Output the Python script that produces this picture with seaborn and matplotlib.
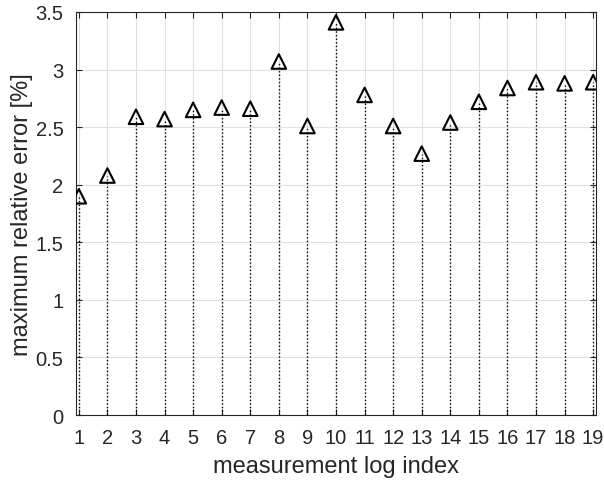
import matplotlib
matplotlib.use("Agg")
import matplotlib.pyplot as plt
import seaborn as sns
import pandas as pd

log_index = list(range(1, 20))
max_rel_error = [1.90, 2.08, 2.59, 2.57, 2.65, 2.67, 2.66, 3.07, 2.51, 3.41,
                 2.78, 2.51, 2.27, 2.54, 2.72, 2.84, 2.89, 2.88, 2.89]
y_ticks = [0, 0.5, 1, 1.5, 2, 2.5, 3, 3.5]
y_tick_labels = ["0", "0.5", "1", "1.5", "2", "2.5", "3", "3.5"]

df = pd.DataFrame({"idx": log_index, "err": max_rel_error})

sns.set_style("whitegrid")
plt.rcParams["font.family"] = ["Liberation Sans", "DejaVu Sans"]

fig = plt.figure(figsize=(6.04, 4.81), dpi=100)
ax = fig.add_axes([0.1258, 0.1351, 0.8610, 0.8379])

ax.vlines(df["idx"], 0, df["err"], colors="black", linestyles=(0, (1, 1.6)), linewidth=1.0, zorder=2)
sns.scatterplot(data=df, x="idx", y="err", marker="^", s=110, facecolor="none",
                edgecolor="black", linewidth=1.5, ax=ax, zorder=3, legend=False)

ax.set_xlim(0.9, 19.1)
ax.set_ylim(0, 3.5)
ax.set_xticks(log_index)
ax.set_xticklabels([str(i) for i in log_index])
ax.set_yticks(y_ticks)
ax.set_yticklabels(y_tick_labels)
ax.grid(True, color="#e0e0e0", linewidth=0.8)
ax.set_axisbelow(True)
for s in ax.spines.values():
    s.set_color("#262626")
    s.set_linewidth(0.8)
ax.tick_params(direction="in", length=4, width=0.8, colors="#262626",
               labelsize=14.5, top=True, right=True, left=True, bottom=True)
ax.tick_params(axis="x", pad=9)
ax.tick_params(axis="y", pad=9)
ax.set_xlabel("measurement log index", fontsize=17, color="#262626", labelpad=6)
ax.set_ylabel("maximum relative error [%]", fontsize=17, color="#262626", labelpad=1.5)

fig.savefig("out.png", dpi=100)
